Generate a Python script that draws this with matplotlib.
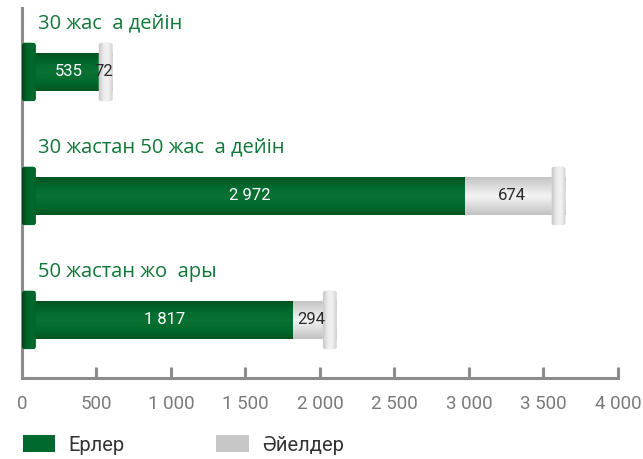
import numpy as np
import matplotlib.pyplot as plt
from matplotlib.patches import FancyBboxPatch, Patch
from matplotlib.colors import LinearSegmentedColormap

# Данные
categories = ['30 жас  а дейін', '30 жастан 50 жас  а дейін', '50 жастан жо  ары']
men = [535, 2972, 1817]
women = [72, 674, 294]
xticks = [0, 500, 1000, 1500, 2000, 2500, 3000, 3500, 4000]
xtick_labels = ['0', '500', '1 000', '1 500', '2 000', '2 500', '3 000', '3 500', '4 000']
legend_labels = ['Ерлер', 'Әйелдер']

GREEN = '#006a2e'
GREY = '#d4d4d4'
LABEL_GREEN = '#0f7838'
AXIS_GREY = '#8c8c8c'

green_cmap = LinearSegmentedColormap.from_list('g', ['#00521f', '#006a2e', '#0a7233', '#006a2e', '#00561f'])
grey_cmap = LinearSegmentedColormap.from_list('s', ['#c4c4c4', '#dcdcdc', '#f4f4f4', '#dcdcdc', '#c2c2c2'])
cap_green_cmap = LinearSegmentedColormap.from_list('cg', ['#00451a', '#006428', '#006a2e', '#006428'])
cap_grey_cmap = LinearSegmentedColormap.from_list('cs', ['#c8c8c8', '#ececec', '#f2f2f2', '#d0d0d0'])

fig = plt.figure(figsize=(6.43, 4.59), dpi=100)
W, H = 643, 459
x0_px, x1_px, top_px, bot_px = 22, 618, 8, 378
ax = fig.add_axes([x0_px / W, 1 - bot_px / H, (x1_px - x0_px) / W, (bot_px - top_px) / H])

ax.set_xlim(0, 4000)
ax.set_ylim(2.468, -0.516)

bar_h = 0.30
cap_h = 0.47
cap_w = 92
vgrad = np.linspace(0, 1, 64).reshape(-1, 1)
hgrad = np.linspace(0, 1, 32).reshape(1, -1)
aspect = (1 / 124) / (4000 / (x1_px - x0_px))

for i, (cat, m, w) in enumerate(zip(categories, men, women)):
    total = m + w
    # тело баров
    ax.imshow(vgrad, cmap=green_cmap, aspect='auto', extent=(0, m, i + bar_h / 2, i - bar_h / 2),
              zorder=2, interpolation='bicubic')
    ax.imshow(vgrad, cmap=grey_cmap, aspect='auto', extent=(m, total, i + bar_h / 2, i - bar_h / 2),
              zorder=2, interpolation='bicubic')
    # левый колпачок
    cap_l = FancyBboxPatch((0, i - cap_h / 2), cap_w, cap_h,
                           boxstyle='round,pad=0,rounding_size=18', mutation_aspect=aspect,
                           facecolor=GREEN, edgecolor='none', zorder=3)
    ax.add_patch(cap_l)
    im = ax.imshow(hgrad, cmap=cap_green_cmap, aspect='auto',
                   extent=(0, cap_w, i + cap_h / 2, i - cap_h / 2), zorder=4, interpolation='bicubic')
    im.set_clip_path(cap_l)
    # правый колпачок
    cap_r = FancyBboxPatch((total - cap_w, i - cap_h / 2), cap_w, cap_h,
                           boxstyle='round,pad=0,rounding_size=18', mutation_aspect=aspect,
                           facecolor=GREY, edgecolor='none', zorder=3)
    ax.add_patch(cap_r)
    im = ax.imshow(hgrad, cmap=cap_grey_cmap, aspect='auto',
                   extent=(total - cap_w, total, i + cap_h / 2, i - cap_h / 2), zorder=4, interpolation='bicubic')
    im.set_clip_path(cap_r)

    # подписи
    ax.text(m / 2 + cap_w / 2, i, f'{m:,}'.replace(',', ' '), ha='center', va='center',
            color='white', fontsize=12, family='Roboto', zorder=5)
    ax.text((m + total - cap_w / 2) / 2, i, f'{w:,}'.replace(',', ' '), ha='center', va='center',
            color='#2a2a2a', fontsize=12, family='Roboto', zorder=5)
    ax.text(105, i - 0.31, cat, ha='left', va='bottom', color=LABEL_GREEN,
            fontsize=14.5, family='Open Sans', fontweight='medium', zorder=5)

# оси
for s in ['top', 'right']:
    ax.spines[s].set_visible(False)
for s in ['left', 'bottom']:
    ax.spines[s].set_color(AXIS_GREY)
    ax.spines[s].set_linewidth(2.2)
ax.set_yticks([])
ax.set_xticks(xticks)
ax.set_xticklabels(xtick_labels, family='Roboto', fontsize=13.5, color='#7a7a7a')
ax.tick_params(axis='x', direction='in', length=8, width=2.2, color=AXIS_GREY, pad=12)

# легенда
handles = [Patch(facecolor=GREEN, edgecolor='none'), Patch(facecolor='#c6c7c6', edgecolor='none')]
leg = fig.legend(handles, legend_labels, loc='lower left', bbox_to_anchor=(0.008, -0.03), ncol=2,
                 frameon=False, handlelength=1.6, handleheight=0.95, columnspacing=4.55, handletextpad=0.65,
                 prop={'family': 'Roboto', 'size': 14.5})
for t in leg.get_texts():
    t.set_color('#333333')

fig.savefig('out.png', dpi=100)
